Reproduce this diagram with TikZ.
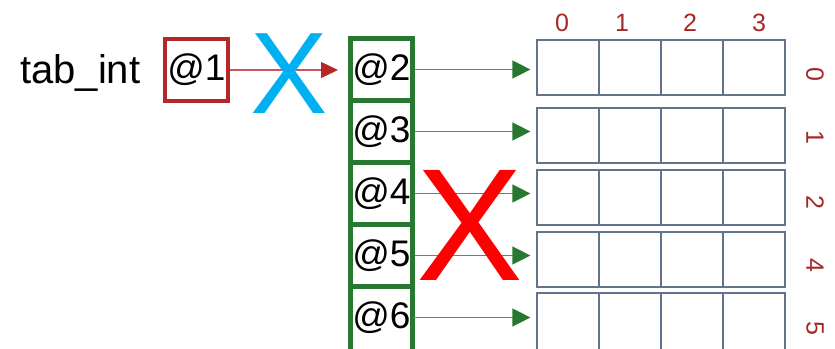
\documentclass[tikz,border=0pt]{standalone}
\usepackage{fontspec}
\setmainfont{Liberation Sans}
\usetikzlibrary{arrows.meta,calc}
\definecolor{gcol}{RGB}{40,120,50}
\definecolor{glinecol}{RGB}{95,135,105}
\definecolor{rcol}{RGB}{180,40,40}
\definecolor{rlinecol}{RGB}{205,85,85}
\definecolor{gridcol}{RGB}{100,115,140}
\definecolor{labcol}{RGB}{165,40,40}
\definecolor{xblue}{RGB}{0,176,240}
\definecolor{xred}{RGB}{255,0,0}
\tikzset{
  gcell/.style={draw=gcol, line width=5pt, minimum width=62pt, minimum height=62pt, inner sep=0pt, font=\fontsize{37}{40}\selectfont},
  gcellopen/.style={draw=none, outer sep=0pt, minimum width=62pt, minimum height=62pt, inner sep=0pt, font=\fontsize{37}{40}\selectfont},
  gridcell/.style={draw=gridcol, line width=1.2pt, minimum width=62pt, minimum height=55pt, inner sep=0pt},
  clab/.style={text=labcol, inner sep=0pt, font=\fontsize{25}{26}\selectfont},
  rlab/.style={text=labcol, inner sep=0pt, rotate=-90, font=\fontsize{25}{26}\selectfont},
  rarrow/.style={draw=rlinecol, line width=1.2pt, -{Triangle[length=17pt,width=16pt,color=rcol]}},
  garrow/.style={draw=glinecol, line width=1.3pt, -{Triangle[length=18pt,width=18pt,color=gcol]}},
  bigx/.style={inner sep=0pt}
}
\begin{document}
\begin{tikzpicture}[x=1pt,y=1pt]
\useasboundingbox (0,0) rectangle (835,-348);
% label
\node[anchor=base west, inner sep=0pt, font=\fontsize{40}{44}\selectfont] (tab) at (20,-83) {tab\_int};
% red pointer box
\node[draw=rcol, line width=4pt, minimum width=63pt, minimum height=62pt, inner sep=0pt, font=\fontsize{37}{40}\selectfont] (b1) at (196.5,-70) {@1};
% green column
\node[gcell] (g1) at (381.5,-69.5) {@2};
\node[gcell] (g2) at (381.5,-131.5) {@3};
\node[gcell] (g3) at (381.5,-193.5) {@4};
\node[gcell] (g4) at (381.5,-255.5) {@5};
\node[gcellopen] (g5) at (381.5,-317.5) {@6};
\draw[gcol, line width=5pt] ($(g5.south west)+(0,-12)$) -- (g5.north west) -- (g5.north east) -- ($(g5.south east)+(0,-12)$);
% grid rows
\foreach \k/\yy in {0/67.5,1/135.5,2/197.5,3/259.5}
  \foreach \j/\xx in {0/568,1/630,2/692,3/754}
    \node[gridcell] (r\k\j) at (\xx,-\yy) {};
\foreach \j/\xx in {0/568,1/630,2/692,3/754}
  \node[gridcell, minimum height=62pt] (r4\j) at (\xx,-324) {};
% column labels
\node[clab] (cl0) at (562,-22.5) {0};
\node[clab] (cl1) at (622,-22.5) {1};
\node[clab] (cl2) at (690,-22.5) {2};
\node[clab] (cl3) at (759,-22.5) {3};
% row labels
\node[rlab] (rl0) at (815,-74) {0};
\node[rlab] (rl1) at (815,-137) {1};
\node[rlab] (rl2) at (815,-202) {2};
\node[rlab] (rl3) at (815,-265) {4};
\node[rlab] (rl4) at (815,-328) {5};
% arrows
\draw[rarrow, shorten >=10pt] (b1.east) -- (b1.east -| g1.west);
\foreach \i/\k in {1/0,2/1,3/2,4/3,5/4}
  \draw[garrow, shorten >=6pt] (g\i.east) -- (g\i.east -| r\k0.west);
% crosses
\node[bigx, text=xblue, font=\fontsize{116}{116}\selectfont] (bx) at (289.5,-73.5) {X};
\node[bigx, text=xred, font=\fontsize{160}{160}\selectfont] (rx) at (470,-225.5) {X};
\end{tikzpicture}
\end{document}
